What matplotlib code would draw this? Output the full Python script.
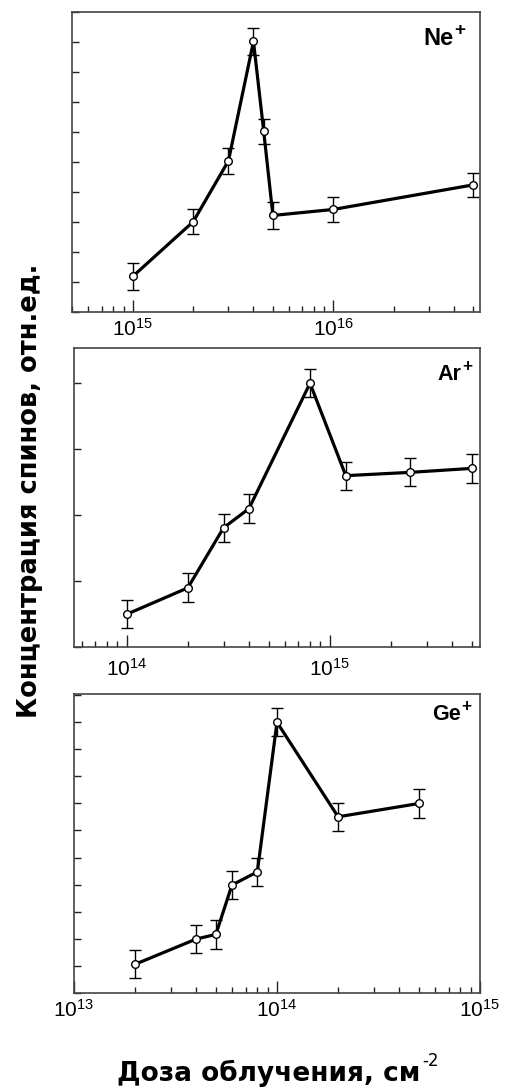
import matplotlib
matplotlib.use('Agg')
import matplotlib.pyplot as plt
from matplotlib.ticker import LogLocator, NullFormatter, MultipleLocator

plt.rcParams['font.family'] = ['Liberation Sans', 'DejaVu Sans']
plt.rcParams['mathtext.fontset'] = 'custom'
plt.rcParams['mathtext.rm'] = 'Liberation Sans'
plt.rcParams['mathtext.bf'] = 'Liberation Sans:bold'

# данные (отн. ед.)
ne_dose = [1e15, 2e15, 3e15, 4e15, 4.5e15, 5e15, 1e16, 5e16]
ne_conc = [1.19, 3.01, 5.04, 9.02, 6.02, 3.22, 3.42, 4.24]
ne_err = [0.44, 0.41, 0.44, 0.45, 0.42, 0.44, 0.43, 0.41]

ar_dose = [1e14, 2e14, 3e14, 4e14, 8e14, 1.2e15, 2.5e15, 5e15]
ar_conc = [0.50, 0.90, 1.81, 2.10, 4.00, 2.60, 2.65, 2.71]
ar_err = [0.215, 0.22, 0.21, 0.215, 0.21, 0.21, 0.21, 0.215]

ge_dose = [2e13, 4e13, 5e13, 6e13, 8e13, 1e14, 2e14, 5e14]
ge_conc = [1.07, 2.00, 2.17, 3.99, 4.47, 9.98, 6.50, 6.99]
ge_err = [0.52, 0.53, 0.53, 0.53, 0.53, 0.52, 0.51, 0.52]

fig = plt.figure(figsize=(5.12, 10.88), dpi=100)

panels = [
    # dose, conc, err, xlim, ylim, label, label size, label pos, tick label pad, axes rect
    (ne_dose, ne_conc, ne_err, (5e14, 5.4e16), (0, 10), 'Ne', 17, (0.935, 0.913), 4, [0.1416, 0.7132, 0.7959, 0.2757]),
    (ar_dose, ar_conc, ar_err, (5.5e13, 5.5e15), (0, 4.53), 'Ar', 15.5, (0.955, 0.913), 8, [0.1445, 0.4051, 0.7930, 0.2748]),
    (ge_dose, ge_conc, ge_err, (1e13, 1e15), (0, 11.02), 'Ge', 15.5, (0.952, 0.933), 4, [0.1445, 0.0870, 0.7930, 0.2751]),
]

for dose, conc, err, xl, yl, name, fs, pos, pad, rect in panels:
    ax = fig.add_axes(rect)
    ax.errorbar(dose, conc, yerr=err, fmt='-o', color='black', lw=2.3,
                ms=5.5, mfc='white', mec='black', mew=1,
                ecolor='black', elinewidth=1, capsize=4.5, capthick=1)
    ax.set_xscale('log')
    ax.set_xlim(xl)
    ax.set_ylim(yl)
    ax.xaxis.set_major_locator(LogLocator(base=10))
    ax.xaxis.set_minor_locator(LogLocator(base=10, subs=range(2, 10)))
    ax.xaxis.set_minor_formatter(NullFormatter())
    ax.yaxis.set_major_locator(MultipleLocator(1))
    ax.yaxis.set_major_formatter(NullFormatter())
    ax.tick_params(axis='x', which='major', direction='in', length=9, width=1,
                   labelsize=15, pad=pad, color='#222222')
    ax.tick_params(axis='x', which='minor', direction='in', length=4.5, width=1, color='#222222')
    ax.tick_params(axis='y', which='major', direction='in', length=5, width=1, color='#222222')
    for s in ax.spines.values():
        s.set_color('#444444')
        s.set_linewidth(1.2)
    t = ax.text(pos[0], pos[1], name, transform=ax.transAxes,
                ha='right', va='center', fontsize=fs, fontweight='bold')
    ax.annotate('+', xy=(1.0, 1.22), xycoords=t, xytext=(0.5, 0), textcoords='offset points',
                ha='left', va='top', fontsize=fs * 0.8, fontweight='bold')

fig.text(0.058, 0.549, 'Концентрация спинов, отн.ед.', rotation=90,
         ha='center', va='center', fontsize=18.5, fontweight='bold', family='DejaVu Sans')
xl_text = fig.text(0.525, 0.013, 'Доза облучения, см',
                   ha='center', va='center', fontsize=19, fontweight='bold', family='DejaVu Sans')
ax.annotate('-2', xy=(1.0, 0.66), xycoords=xl_text, xytext=(1, 0), textcoords='offset points',
            ha='left', va='bottom', fontsize=12, family='DejaVu Sans', annotation_clip=False)

fig.savefig('out.png', dpi=100)
